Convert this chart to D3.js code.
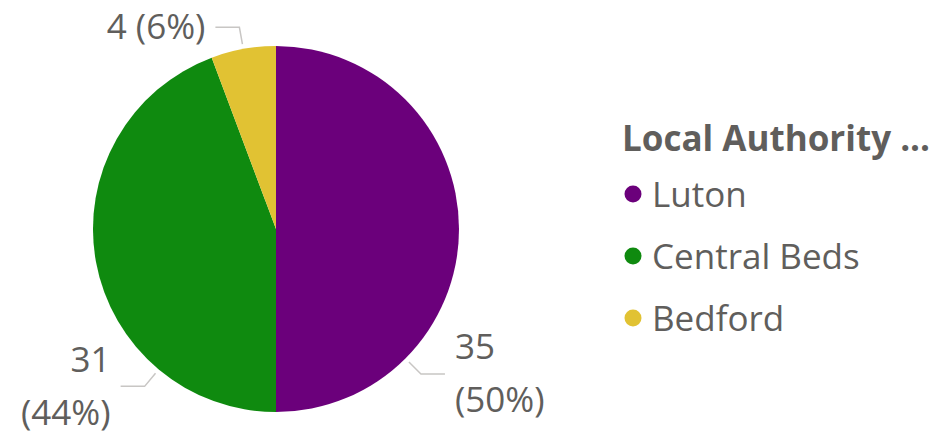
<!DOCTYPE html>
<html>
<head>
<meta charset="utf-8">
<script src="https://cdn.jsdelivr.net/npm/d3@7"></script>
<style>
  body { margin: 0; background: #fff; }
  svg text { font-family: "Segoe UI", "Open Sans", sans-serif; fill: #605e5c; }
</style>
</head>
<body>
<script>
// chart data
const categories = ['Luton', 'Central Beds', 'Bedford'];
const values = [35, 31, 4];
const colors = ['#6b007b', '#0f8a0f', '#e1c233'];
const legendTitle = 'Local Authority ...';

// where along each slice the label leader attaches (0 = start, 1 = end), and wrap flag
const labelAt = [0.75, 0.25, 0.5];
const labelWrap = [true, true, false];

const width = 943, height = 432;
const cx = 276, cy = 229, radius = 183;

const svg = d3.select('body').append('svg')
    .attr('width', width)
    .attr('height', height);

const total = d3.sum(values);
const data = categories.map((c, i) => ({ name: c, value: values[i], i }));

const pie = d3.pie().value(d => d.value).sort(null);
const arc = d3.arc().innerRadius(0).outerRadius(radius);
const color = d3.scaleOrdinal().domain(categories).range(colors);

const g = svg.append('g').attr('transform', `translate(${cx},${cy})`);
const arcs = pie(data);

g.selectAll('path.slice')
    .data(arcs)
    .enter().append('path')
    .attr('class', 'slice')
    .attr('d', arc)
    .attr('fill', d => color(d.data.name));

// data labels with leader lines
const pt = (a, r) => [Math.sin(a) * r, -Math.cos(a) * r];

arcs.forEach(d => {
  const a = d.startAngle + (d.endAngle - d.startAngle) * labelAt[d.data.i];
  const p0 = pt(a, radius + 5);
  const p1 = pt(a, radius + 22);
  const side = Math.sin(a) >= 0 ? 1 : -1;
  const p2 = [p1[0] + side * 24, p1[1]];

  g.append('polyline')
      .attr('points', [p0, p1, p2].map(p => p.join(',')).join(' '))
      .attr('fill', 'none')
      .attr('stroke', '#c8c6c4')
      .attr('stroke-width', 1.5);

  const pct = Math.round(d.data.value / total * 100);
  const lines = labelWrap[d.data.i]
      ? [String(d.data.value), `(${pct}%)`]
      : [`${d.data.value} (${pct}%)`];
  const lh = 53;
  const t = g.append('text')
      .attr('text-anchor', side > 0 ? 'start' : 'end')
      .style('font-size', '35px');
  lines.forEach((s, k) => {
    t.append('tspan')
        .attr('x', p2[0] + side * 10)
        .attr('y', p2[1] + 12 + (k - (lines.length - 1) / 2) * lh)
        .text(s);
  });
});

// legend
const legend = svg.append('g').attr('transform', 'translate(622,0)');
legend.append('text')
    .attr('x', 0).attr('y', 151)
    .style('font-size', '35px')
    .style('font-weight', 'bold')
    .text(legendTitle);

const item = legend.selectAll('g.item')
    .data(categories)
    .enter().append('g')
    .attr('class', 'item')
    .attr('transform', (d, i) => `translate(0,${194 + i * 62})`);

item.append('circle')
    .attr('cx', 11).attr('cy', 0).attr('r', 8.5)
    .attr('fill', d => color(d));

item.append('text')
    .attr('x', 30).attr('y', 13)
    .style('font-size', '35px')
    .text(d => d);
</script>
</body>
</html>
